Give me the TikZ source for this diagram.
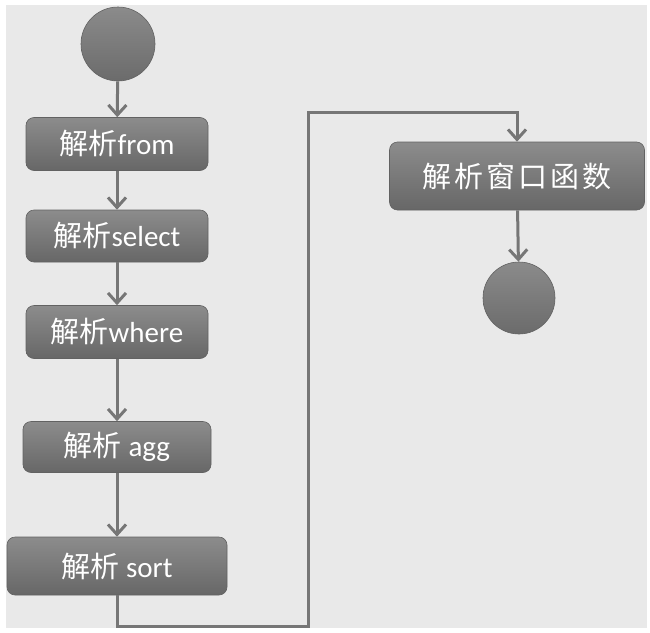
\documentclass[tikz,border=0pt]{standalone}
\usepackage{fontspec}
\setmainfont{Carlito}
\newfontfamily\cjk{Noto Sans CJK SC}
\usetikzlibrary{arrows.meta,shadings}
\definecolor{bg}{HTML}{E9E9E9}
\definecolor{boxtop}{HTML}{8C8C8C}
\definecolor{boxbot}{HTML}{676767}
\definecolor{boxline}{HTML}{626262}
\definecolor{conn}{HTML}{767676}
\definecolor{dotc}{HTML}{7E7E7E}
\tikzset{
  stepbox/.style={rounded corners=8pt, draw=boxline, line width=0.6pt,
    top color=boxtop, bottom color=boxbot, text=white,
    minimum height=53pt, inner sep=0pt,
    font=\fontsize{29}{32}\selectfont},
  dotnode/.style={circle, draw=boxline, line width=0.6pt,
    top color=dotc!90!white, bottom color=dotc!85!black, minimum size=74pt, inner sep=0pt},
  flow/.style={draw=conn, line width=3pt,
    -{Straight Barb[length=10pt,width=18pt,line width=3pt]}},
}
\begin{document}
\begin{tikzpicture}[x=1pt,y=-1pt]
\useasboundingbox (0,0) rectangle (650,632);
\fill[bg] (6,5) rectangle (647,628);
\node[dotnode] (start) at (118,44) {};
\node[stepbox, minimum width=182pt] (from) at (117,144) {{\cjk 解析}from};
\node[stepbox, minimum width=182pt, minimum height=52pt] (select) at (117,236) {{\cjk 解析}select};
\node[stepbox, minimum width=182pt] (where) at (117,332) {{\cjk 解析}where};
\node[stepbox, minimum width=188pt, minimum height=51pt] (agg) at (117,447) {{\cjk 解析} agg};
\node[stepbox, minimum width=220pt, minimum height=58pt] (sort) at (117,566) {{\cjk 解析} sort};
\node[stepbox, minimum width=255pt, minimum height=68pt] (window) at (517,176) {\cjk 解\hspace{3pt}析\hspace{3pt}窗\hspace{3pt}口\hspace{3pt}函\hspace{3pt}数};
\node[dotnode, minimum size=72pt] (end) at (519,298) {};
\coordinate (c1) at (117,626);
\coordinate (c2) at (308,626);
\coordinate (c3) at (308,112);
\coordinate (c4) at (window.north |- c3);
\draw[flow] (start) -- (from);
\draw[flow] (from) -- (select);
\draw[flow] (select) -- (where);
\draw[flow] (where) -- (agg);
\draw[flow] (agg) -- (sort);
\draw[flow] (sort) -- (c1) -- (c2) -- (c3) -- (c4) -- (window.north);
\draw[flow] (window) -- (end);
\end{tikzpicture}
\end{document}
